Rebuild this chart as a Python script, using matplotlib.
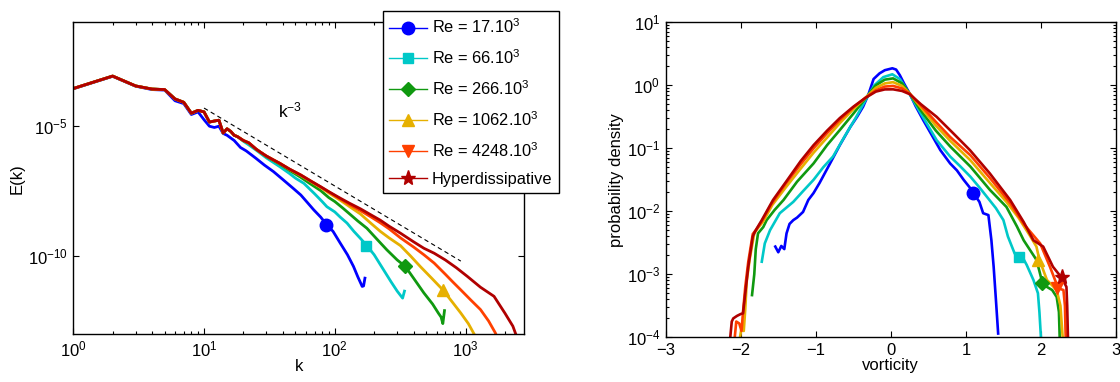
import matplotlib.pyplot as plt
import numpy as np
from matplotlib.lines import Line2D
from matplotlib.ticker import FixedLocator, LogLocator, NullLocator, NullFormatter, LogFormatterSciNotation

plt.rcParams["font.family"] = ["Liberation Sans", "DejaVu Sans"]
plt.rcParams["font.size"] = 12
plt.rcParams["mathtext.fontset"] = "custom"
plt.rcParams["mathtext.rm"] = "Liberation Sans"
plt.rcParams["mathtext.it"] = "Liberation Sans:italic"
plt.rcParams["mathtext.bf"] = "Liberation Sans:bold"

LABELS = ["Re = 17.10$^3$", "Re = 66.10$^3$", "Re = 266.10$^3$",
          "Re = 1062.10$^3$", "Re = 4248.10$^3$", "Hyperdissipative"]
COLORS = ["#0000ff", "#00c8c8", "#109910", "#e6b000", "#ff4000", "#b00000"]
MARKERS = ["o", "s", "D", "^", "v", "*"]
MSIZES = [9, 7, 7, 9, 9, 11]

# ---- energy spectra, values as log10 E(k) ----
LOW_K = [1, 2, 3, 4, 5, 6, 7, 8, 9, 10, 11, 12, 13, 14, 15, 16, 17, 18]
LOW_LOGE = [-3.55, -3.07, -3.45, -3.57, -3.59, -3.95, -4.08, -4.50, -4.39,
            -4.45, -4.84, -4.80, -4.77, -5.26, -5.10, -5.20, -5.35, -5.40]

BLUE_K = [1, 2, 3, 4, 5, 6, 7, 8, 9, 10, 11, 12, 13, 14, 15, 17, 19, 21, 23, 25,
          29, 34, 40, 48, 55, 62, 69, 78, 87, 97, 110, 125, 139, 150, 162, 166, 170]
BLUE_LOGE = [-3.56, -3.08, -3.46, -3.59, -3.61, -4.02, -4.13, -4.55, -4.45, -4.75,
             -5.00, -5.05, -5.00, -5.28, -5.35, -5.55, -5.82, -5.95, -6.10, -6.24,
             -6.50, -6.75, -7.05, -7.39, -7.65, -7.95, -8.22, -8.50, -8.80, -9.05,
             -9.50, -9.95, -10.40, -10.80, -11.17, -11.15, -10.85]

CYAN_K = [20, 22, 25, 30, 34, 38, 45, 50, 58, 70, 80, 87, 100, 110, 124, 140,
          157, 176, 200, 236, 270, 300, 330, 341]
CYAN_LOGE = [-5.58, -5.72, -5.92, -6.22, -6.40, -6.56, -6.82, -7.00, -7.20, -7.60,
             -7.90, -8.10, -8.30, -8.50, -8.73, -9.05, -9.32, -9.60, -9.95, -10.53,
             -11.00, -11.35, -11.62, -11.35]

GREEN_K = [20, 22, 25, 27, 30, 34, 38, 45, 55, 65, 78, 90, 100, 115, 130, 150,
           176, 210, 250, 300, 346, 400, 480, 560, 620, 650, 670, 690]
GREEN_LOGE = [-5.56, -5.65, -5.89, -6.00, -6.17, -6.32, -6.46, -6.70, -6.97, -7.22,
              -7.48, -7.75, -7.90, -8.15, -8.38, -8.65, -8.93, -9.35, -9.76, -10.15,
              -10.40, -10.85, -11.42, -11.85, -12.20, -12.35, -12.60, -12.10]

YELLOW_K = [20, 22, 25, 27, 30, 34, 38, 45, 55, 65, 78, 90, 110, 130, 157, 190,
            223, 260, 318, 380, 450, 550, 667, 800, 918, 1050, 1150, 1250]
YELLOW_LOGE = [-5.55, -5.64, -5.88, -6.00, -6.15, -6.30, -6.43, -6.66, -6.90, -7.12,
               -7.36, -7.57, -7.85, -8.10, -8.38, -8.75, -9.05, -9.30, -9.60, -10.00,
               -10.40, -10.85, -11.29, -11.80, -12.19, -12.60, -12.96, -13.30]

ORANGE_K = [20, 22, 25, 27, 30, 34, 38, 45, 55, 65, 78, 90, 110, 130, 157, 190,
            223, 260, 318, 400, 480, 575, 700, 800, 918, 1100, 1300, 1500, 1690, 1800]
ORANGE_LOGE = [-5.55, -5.64, -5.88, -6.00, -6.15, -6.30, -6.43, -6.65, -6.88, -7.10,
               -7.34, -7.53, -7.80, -8.02, -8.25, -8.50, -8.72, -8.95, -9.30, -9.65,
               -9.95, -10.27, -10.70, -11.00, -11.30, -11.70, -12.06, -12.50, -12.96,
               -13.30]

HYPER_K = [20, 22, 25, 27, 30, 34, 38, 45, 55, 65, 78, 90, 110, 130, 157, 190,
           223, 260, 318, 400, 480, 575, 700, 850, 1030, 1300, 1650, 2000, 2300, 2500]
HYPER_LOGE = [-5.55, -5.64, -5.88, -6.00, -6.15, -6.30, -6.43, -6.65, -6.88, -7.10,
              -7.33, -7.52, -7.77, -7.97, -8.18, -8.42, -8.62, -8.85, -9.12, -9.45,
              -9.70, -9.89, -10.15, -10.45, -10.78, -11.20, -11.55, -12.20, -12.70,
              -13.20]

SPEC_MARK_K = [85, 173, 346, 675]
SPEC_MARK_LOGE = [-8.8, -9.6, -10.4, -11.3]

REF_K = [10, 920]
REF_E = [5.0e-5, 6.4e-11]

# ---- vorticity pdfs, values as log10 p ----
PDF_BLUE_V = [-1.54, -1.50, -1.46, -1.42, -1.39, -1.35, -1.30, -1.25, -1.17, -1.10,
              -1.03, -0.95, -0.81, -0.68, -0.54, -0.45, -0.37, -0.30, -0.23, -0.15,
              -0.08, 0.02, 0.07, 0.12, 0.18, 0.25, 0.33, 0.43, 0.55, 0.66, 0.79,
              0.88, 0.97, 1.05, 1.10, 1.18, 1.23, 1.30, 1.34, 1.37, 1.40, 1.43]
PDF_BLUE_LOGP = [-2.56, -2.65, -2.55, -2.60, -2.35, -2.20, -2.14, -2.10, -2.01, -1.82,
                 -1.71, -1.55, -1.24, -0.95, -0.66, -0.50, -0.34, -0.15, 0.10, 0.19,
                 0.24, 0.27, 0.25, 0.16, 0.02, -0.13, -0.33, -0.55, -0.80, -1.03,
                 -1.24, -1.35, -1.50, -1.62, -1.71, -1.85, -2.03, -2.06, -2.46, -2.88,
                 -3.40, -3.94]

PDF_CYAN_V = [-1.72, -1.68, -1.61, -1.48, -1.30, -1.17, -1.03, -0.90, -0.77, -0.62,
              -0.46, -0.34, -0.22, -0.10, 0.02, 0.12, 0.25, 0.40, 0.50, 0.61, 0.79,
              0.92, 1.06, 1.18, 1.28, 1.40, 1.50, 1.56, 1.65, 1.71, 1.76, 1.81, 1.90,
              1.96, 1.98, 2.00]
PDF_CYAN_LOGP = [-2.80, -2.51, -2.30, -2.03, -1.85, -1.68, -1.50, -1.30, -1.13, -0.82,
                 -0.50, -0.24, 0.00, 0.13, 0.175, 0.10, -0.14, -0.45, -0.65, -0.87,
                 -1.13, -1.28, -1.45, -1.62, -1.77, -1.95, -2.14, -2.40, -2.67, -2.72,
                 -2.74, -2.85, -3.09, -3.30, -3.60, -4.00]

PDF_GREEN_V = [-1.85, -1.82, -1.80, -1.77, -1.70, -1.655, -1.55, -1.43, -1.25, -1.03,
               -0.85, -0.68, -0.50, -0.34, -0.20, -0.08, 0.03, 0.15, 0.25, 0.40, 0.60,
               0.79, 1.06, 1.32, 1.54, 1.68, 1.77, 1.94, 1.98, 2.02, 2.08, 2.15, 2.21,
               2.24, 2.25]
PDF_GREEN_LOGP = [-3.33, -3.00, -2.60, -2.35, -2.25, -2.14, -1.98, -1.82, -1.53, -1.24,
                  -0.95, -0.71, -0.45, -0.21, 0.00, 0.09, 0.11, 0.03, -0.13, -0.40,
                  -0.72, -0.97, -1.29, -1.66, -1.93, -2.24, -2.46, -2.77, -2.95, -3.14,
                  -3.20, -3.25, -3.36, -3.60, -4.00]

PDF_YELLOW_V = [-2.01, -1.99, -1.96, -1.94, -1.92, -1.88, -1.82, -1.78, -1.70, -1.58,
                -1.40, -1.20, -1.03, -0.85, -0.68, -0.50, -0.34, -0.20, -0.08, 0.03,
                0.15, 0.25, 0.40, 0.60, 0.79, 1.06, 1.32, 1.54, 1.70, 1.85, 1.94, 1.98,
                2.08, 2.21, 2.26, 2.29]
PDF_YELLOW_LOGP = [-4.00, -3.85, -3.90, -3.55, -3.10, -2.75, -2.35, -2.28, -2.16, -1.90,
                   -1.62, -1.32, -1.07, -0.83, -0.60, -0.38, -0.20, -0.04, 0.03, 0.05,
                   -0.01, -0.13, -0.35, -0.64, -0.88, -1.19, -1.55, -1.85, -2.10, -2.38,
                   -2.56, -2.77, -3.09, -3.25, -3.50, -4.00]

PDF_ORANGE_V = [-2.08, -2.06, -2.02, -1.99, -1.97, -1.94, -1.90, -1.84, -1.80, -1.72,
                -1.60, -1.40, -1.20, -1.03, -0.85, -0.68, -0.50, -0.34, -0.20, -0.08,
                0.03, 0.15, 0.25, 0.40, 0.60, 0.79, 1.06, 1.32, 1.59, 1.77, 1.99, 2.12,
                2.23, 2.30, 2.32, 2.33]
PDF_ORANGE_LOGP = [-4.00, -3.75, -3.78, -3.90, -3.60, -3.20, -2.80, -2.36, -2.30, -2.16,
                   -1.90, -1.56, -1.25, -1.00, -0.76, -0.55, -0.35, -0.20, -0.08, -0.02,
                   -0.01, -0.05, -0.13, -0.32, -0.58, -0.82, -1.11, -1.47, -1.87, -2.20,
                   -2.51, -2.88, -3.22, -3.25, -3.50, -4.00]

PDF_HYPER_V = [-2.14, -2.12, -2.10, -2.05, -2.00, -1.97, -1.94, -1.90, -1.84, -1.81,
               -1.72, -1.57, -1.39, -1.20, -1.03, -0.85, -0.68, -0.50, -0.34, -0.20,
               -0.08, 0.03, 0.15, 0.25, 0.40, 0.61, 0.83, 1.055, 1.32, 1.59, 1.77, 1.90,
               2.03, 2.16, 2.28, 2.34, 2.35, 2.36]
PDF_HYPER_LOGP = [-4.00, -3.75, -3.70, -3.66, -3.63, -3.62, -3.30, -2.88, -2.40, -2.32,
                  -2.14, -1.82, -1.52, -1.20, -0.95, -0.72, -0.52, -0.34, -0.20, -0.10,
                  -0.065, -0.064, -0.09, -0.14, -0.30, -0.50, -0.76, -1.03, -1.40, -1.82,
                  -2.17, -2.46, -2.56, -2.88, -3.06, -3.20, -3.50, -4.00]

PDF_MARK_V = [1.10, 1.71, 2.02, 1.96, 2.22, 2.28]
PDF_MARK_LOGP = [-1.71, -2.72, -3.14, -2.77, -3.21, -3.05]


def spectrum(k_tail, loge_tail):
    k = np.array(LOW_K + k_tail, dtype=float)
    e = 10.0 ** np.array(LOW_LOGE + loge_tail)
    return k, e


fig = plt.figure(figsize=(11.2, 3.82), dpi=100)
ax1 = fig.add_axes([0.0654, 0.1257, 0.4025, 0.8159])
ax2 = fig.add_axes([0.5944, 0.1170, 0.4020, 0.8246])

spectra = [
    (np.array(BLUE_K, dtype=float), 10.0 ** np.array(BLUE_LOGE)),
    spectrum(CYAN_K, CYAN_LOGE),
    spectrum(GREEN_K, GREEN_LOGE),
    spectrum(YELLOW_K, YELLOW_LOGE),
    spectrum(ORANGE_K, ORANGE_LOGE),
    spectrum(HYPER_K, HYPER_LOGE),
]
for (k, e), c in zip(spectra, COLORS):
    ax1.plot(k, e, color=c, lw=2.0)
for i, (mk, me) in enumerate(zip(SPEC_MARK_K, SPEC_MARK_LOGE)):
    ax1.plot(mk, 10.0 ** me, ls="none", marker=MARKERS[i], ms=MSIZES[i],
             color=COLORS[i])
ax1.plot(REF_K, REF_E, color="k", lw=0.8, ls=(0, (4, 3)))
ax1.text(37, 4.0e-5, "k$^{-3}$", fontsize=12.5, ha="left", va="center")

ax1.set_xscale("log")
ax1.set_yscale("log")
ax1.set_xlim(1, 2800)
ax1.set_ylim(1e-13, 1e-1)
ax1.yaxis.set_major_locator(FixedLocator([1e-10, 1e-5]))
ax1.yaxis.set_major_formatter(LogFormatterSciNotation())
ax1.yaxis.set_minor_locator(NullLocator())
ax1.xaxis.set_major_locator(FixedLocator([1, 10, 100, 1000]))
ax1.xaxis.set_minor_locator(LogLocator(base=10, subs=np.arange(2, 10)))
ax1.xaxis.set_minor_formatter(NullFormatter())
ax1.set_xlabel("k", labelpad=0)
ax1.set_ylabel("E(k)", labelpad=2)

pdfs = [
    (PDF_BLUE_V, PDF_BLUE_LOGP), (PDF_CYAN_V, PDF_CYAN_LOGP),
    (PDF_GREEN_V, PDF_GREEN_LOGP), (PDF_YELLOW_V, PDF_YELLOW_LOGP),
    (PDF_ORANGE_V, PDF_ORANGE_LOGP), (PDF_HYPER_V, PDF_HYPER_LOGP),
]
for (v, lp), c in zip(pdfs, COLORS):
    ax2.plot(v, 10.0 ** np.array(lp), color=c, lw=1.9)
for i in range(6):
    ax2.plot(PDF_MARK_V[i], 10.0 ** PDF_MARK_LOGP[i], ls="none", marker=MARKERS[i],
             ms=MSIZES[i], color=COLORS[i])
ax2.set_yscale("log")
ax2.set_xlim(-3, 3)
ax2.set_ylim(1e-4, 1e1)
ax2.yaxis.set_major_locator(LogLocator(base=10, numticks=10))
ax2.yaxis.set_minor_locator(LogLocator(base=10, subs=np.arange(2, 10), numticks=10))
ax2.yaxis.set_minor_formatter(NullFormatter())
ax2.set_xticks([-3, -2, -1, 0, 1, 2, 3])
ax2.set_xlabel("vorticity", labelpad=0)
ax2.set_ylabel("probability density", labelpad=2)

for ax in (ax1, ax2):
    ax.tick_params(which="both", direction="in", top=True, right=True, width=0.8)
    ax.tick_params(which="major", length=4.5, pad=4)
    ax.tick_params(which="minor", length=2.5)
    for s in ax.spines.values():
        s.set_linewidth(1.0)

handles = [Line2D([], [], color=c, lw=1.0, marker=m, ms=ms)
           for c, m, ms in zip(COLORS, MARKERS, MSIZES)]
leg = fig.legend(handles, LABELS, loc="upper left",
                 bbox_to_anchor=(382.7 / 1120, 1 - 11 / 382),
                 bbox_transform=fig.transFigure, fancybox=False, framealpha=1,
                 edgecolor="k", borderaxespad=0, handlelength=2.3,
                 handletextpad=0.3, labelspacing=0.74, borderpad=0.4,
                 fontsize=11.8)
leg.get_frame().set_linewidth(1.0)

fig.savefig("out.png", dpi=100)
